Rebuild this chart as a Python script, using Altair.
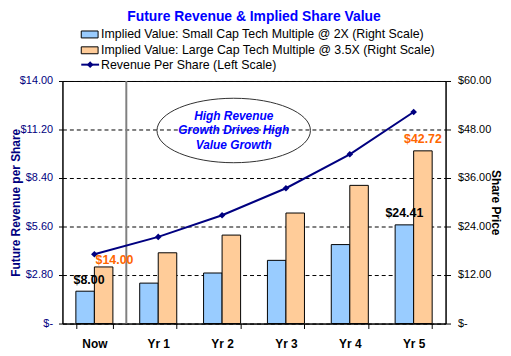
import altair as alt
import pandas as pd

cats = ["Now", "Yr 1", "Yr 2", "Yr 3", "Yr 4", "Yr 5"]
revenue = [4.00, 5.00, 6.25, 7.81, 9.77, 12.21]
small_cap = [8.00, 10.00, 12.50, 15.63, 19.53, 24.41]
large_cap = [14.00, 17.50, 21.88, 27.34, 34.18, 42.72]
series_keys = ["small", "large"]
legend_labels = [
    "Implied Value: Small Cap Tech Multiple @ 2X (Right Scale)",
    "Implied Value: Large Cap Tech Multiple @ 3.5X (Right Scale)",
    "Revenue Per Share (Left Scale)",
]
left_ticks = [0, 2.8, 5.6, 8.4, 11.2, 14]
right_ticks = [0, 12, 24, 36, 48, 60]
title_text = "Future Revenue & Implied Share Value"
callout_text = "High Revenue\nGrowth Drives High\nValue Growth"

FONT = "Liberation Sans, Arial, Helvetica, sans-serif"
NAVY = "#000080"
BLUE_BAR = "#99CCFF"
ORANGE_BAR = "#FFCC99"
ORANGE_TXT = "#FF6600"
W, H = 387, 245
PI = 0.42
STEP = W / len(cats)

bars_df = pd.DataFrame(
    [{"cat": c, "series": "small", "value": v} for c, v in zip(cats, small_cap)]
    + [{"cat": c, "series": "large", "value": v} for c, v in zip(cats, large_cap)]
)
line_df = pd.DataFrame({"cat": cats, "rev": revenue})

xaxis = alt.Axis(
    title=None, labelAngle=0, labelFont=FONT, labelFontSize=12, labelFontWeight="bold",
    labelColor="black", labelPadding=10, tickBand="extent", tickColor="black",
    tickSize=5, domainColor="black", grid=False,
)
xscale = alt.Scale(paddingInner=PI, paddingOuter=PI / 2)


def xenc(**kw):
    return alt.X("cat:N", sort=cats, scale=xscale, axis=xaxis, **kw)


xoff = alt.XOffset("series:N", sort=series_keys, scale=alt.Scale(domain=series_keys, paddingInner=0))
right_scale = alt.Scale(domain=[0, 60], nice=False, zero=True)

money = "'$' + format(datum.value, '.2f')"

bars = alt.Chart(bars_df).mark_bar(stroke="black", strokeWidth=1).encode(
    x=xenc(),
    xOffset=xoff,
    y=alt.Y(
        "value:Q", scale=right_scale,
        axis=alt.Axis(
            orient="right", values=right_ticks, grid=False,
            labelExpr="datum.value == 0 ? '$-' : " + money,
            labelFont=FONT, labelFontSize=11, labelColor="black", labelPadding=7,
            tickColor="black", tickSize=5, domainColor="black",
            title="Share Price", titleFont=FONT, titleFontSize=12, titleFontWeight="bold",
            titleColor="black", titleX=43, titleBaseline="bottom",
        ),
    ),
    color=alt.Color("series:N", sort=series_keys,
                    scale=alt.Scale(domain=series_keys, range=[BLUE_BAR, ORANGE_BAR]), legend=None),
)

# category separator between "Now" and "Yr 1" (one band step from the left edge)
sep = alt.Chart(pd.DataFrame({"k": [0]})).mark_rule(color="#808080", strokeWidth=2).encode(
    x=alt.value(STEP), y=alt.value(0), y2=alt.value(H)
)

line = alt.Chart(line_df).mark_line(
    color=NAVY, strokeWidth=2,
    point=alt.OverlayMarkDef(shape="diamond", size=45, color=NAVY, filled=True),
).encode(
    x=xenc(),
    y=alt.Y(
        "rev:Q", scale=alt.Scale(domain=[0, 14], nice=False),
        axis=alt.Axis(
            orient="left", values=left_ticks,
            labelExpr="datum.value == 0 ? '$-\u00a0\u00a0\u00a0\u00a0\u00a0' : " + money,
            labelFont=FONT, labelFontSize=11, labelColor=NAVY, labelPadding=6,
            tickColor="black", tickSize=4, domainColor="black",
            grid=True, gridColor="black", gridDash=[4, 3], gridWidth=1, gridOpacity=1,
            title="Future Revenue per Share", titleFont=FONT, titleFontSize=12,
            titleFontWeight="bold", titleColor=NAVY, titleX=-40, titleBaseline="bottom",
        ),
    ),
)


def bar_label(i, key, values, color, dx, dy):
    df = pd.DataFrame({"cat": [cats[i]], "series": [key], "value": [values[i]]})
    return alt.Chart(df).mark_text(
        font=FONT, fontSize=12.5, fontWeight="bold", color=color, dx=dx, dy=dy
    ).encode(
        x=xenc(), xOffset=xoff,
        y=alt.Y("value:Q", scale=right_scale, axis=None),
        text=alt.Text("value:Q", format="$.2f"),
    )


lab1 = bar_label(0, "small", small_cap, "black", 4, -11)
lab2 = bar_label(0, "large", large_cap, ORANGE_TXT, 11, -7)
lab3 = bar_label(5, "small", small_cap, "black", 0, -12)
lab4 = bar_label(5, "large", large_cap, ORANGE_TXT, 0, -12)

one = pd.DataFrame({"k": [0]})
title = alt.Chart(one).mark_text(
    text=title_text, font=FONT, fontSize=14, fontWeight="bold", color="#0000FF", align="center"
).encode(x=alt.value(W / 2), y=alt.value(-65))

ellipse = alt.Chart(one).mark_point(
    shape="M -1 0 A 1 0.42 0 1 1 1 0 A 1 0.42 0 1 1 -1 0 Z",
    size=155 * 155, filled=False, stroke="#303030", strokeWidth=1, opacity=1,
).encode(x=alt.value(173), y=alt.value(50))

callout = alt.Chart(one).mark_text(
    text=callout_text.split("\n"), lineHeight=15, font=FONT, fontSize=12,
    fontStyle="italic", fontWeight="bold", color="#0000FF", align="center", baseline="middle",
).encode(x=alt.value(173), y=alt.value(35))

leg_y = [-47, -31, -16.5]
leg_rect1 = alt.Chart(one).mark_rect(fill=BLUE_BAR, stroke="black", strokeWidth=1).encode(
    x=alt.value(19), x2=alt.value(36), y=alt.value(leg_y[0] - 3.5), y2=alt.value(leg_y[0] + 3.5))
leg_rect2 = alt.Chart(one).mark_rect(fill=ORANGE_BAR, stroke="black", strokeWidth=1).encode(
    x=alt.value(19), x2=alt.value(36), y=alt.value(leg_y[1] - 3.5), y2=alt.value(leg_y[1] + 3.5))
leg_line = alt.Chart(one).mark_rule(color=NAVY, strokeWidth=2).encode(
    x=alt.value(19), x2=alt.value(37), y=alt.value(leg_y[2]))
leg_pt = alt.Chart(one).mark_point(shape="diamond", size=45, color=NAVY, filled=True, opacity=1).encode(
    x=alt.value(28), y=alt.value(leg_y[2]))
leg_texts = [
    alt.Chart(one).mark_text(text=t, font=FONT, fontSize=12.5, color="black", align="left",
                             baseline="middle").encode(x=alt.value(39), y=alt.value(yy))
    for t, yy in zip(legend_labels, leg_y)
]

chart = alt.layer(
    bars, sep, line, lab1, lab2, lab3, lab4, title, ellipse, callout,
    leg_rect1, leg_rect2, leg_line, leg_pt, *leg_texts,
).resolve_scale(y="independent").properties(
    width=W, height=H,
    autosize=alt.AutoSizeParams(type="none"),
    padding={"left": 55, "top": 72, "right": 58, "bottom": 25},
    background="white",
).configure_view(stroke="black", strokeWidth=1)

chart.save("out.html", embed_options={"renderer": "svg", "actions": False})
